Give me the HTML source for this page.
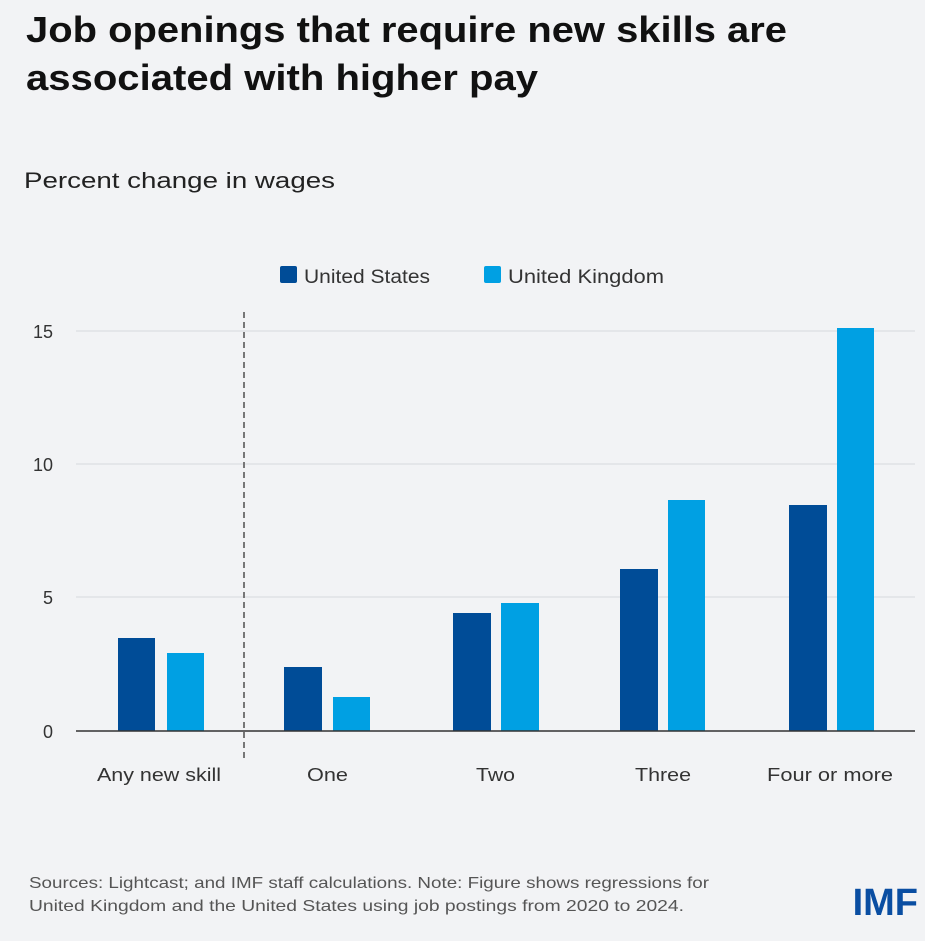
<!DOCTYPE html>
<html><head><style>
html,body{margin:0;padding:0;background:#f2f3f5;}
body{width:925px;height:936px;overflow:hidden;font-family:"Liberation Sans",sans-serif;}
</style></head><body>
<svg width="925" height="936" viewBox="0 0 925 936" xmlns="http://www.w3.org/2000/svg" font-family="Liberation Sans, sans-serif">
<rect width="925" height="936" fill="#f2f3f5"/>
<text x="26" y="42" font-size="36" font-weight="bold" fill="#111" textLength="761" lengthAdjust="spacingAndGlyphs">Job openings that require new skills are</text>
<text x="26" y="90" font-size="36" font-weight="bold" fill="#111" textLength="512" lengthAdjust="spacingAndGlyphs">associated with higher pay</text>
<text x="24" y="188" font-size="22" fill="#222" textLength="311" lengthAdjust="spacingAndGlyphs">Percent change in wages</text>
<rect x="280" y="266" width="17" height="17" rx="2" fill="#004c97"/>
<text x="304" y="283" font-size="19" fill="#333" textLength="126" lengthAdjust="spacingAndGlyphs">United States</text>
<rect x="484" y="266" width="17" height="17" rx="2" fill="#00a0e3"/>
<text x="508" y="283" font-size="19" fill="#333" textLength="156" lengthAdjust="spacingAndGlyphs">United Kingdom</text>
<g stroke="#dcdee2" stroke-width="1.2">
<line x1="76" x2="915" y1="331" y2="331"/>
<line x1="76" x2="915" y1="464" y2="464"/>
<line x1="76" x2="915" y1="597" y2="597"/>
</g>
<g font-size="18" fill="#333" text-anchor="end">
<text x="53" y="338">15</text><text x="53" y="471">10</text><text x="53" y="604">5</text><text x="53" y="738">0</text>
</g>
<g fill="#004c97">
<rect x="118" y="638" width="37" height="93"/>
<rect x="284" y="667" width="38" height="64"/>
<rect x="453" y="613" width="38" height="118"/>
<rect x="620" y="569" width="38" height="162"/>
<rect x="789" y="505" width="38" height="226"/>
</g>
<g fill="#00a0e3">
<rect x="167" y="653" width="37" height="78"/>
<rect x="333" y="697" width="37" height="34"/>
<rect x="501" y="603" width="38" height="128"/>
<rect x="668" y="500" width="37" height="231"/>
<rect x="837" y="328" width="37" height="403"/>
</g>
<line x1="76" x2="915" y1="731" y2="731" stroke="#333" stroke-width="1.5"/>
<line x1="244" x2="244" y1="312" y2="760" stroke="#777" stroke-width="2" stroke-dasharray="6,4"/>
<g font-size="18" fill="#333">
<text x="97" y="781" textLength="124" lengthAdjust="spacingAndGlyphs">Any new skill</text>
<text x="307" y="781" textLength="41" lengthAdjust="spacingAndGlyphs">One</text>
<text x="476" y="781" textLength="39" lengthAdjust="spacingAndGlyphs">Two</text>
<text x="635" y="781" textLength="56" lengthAdjust="spacingAndGlyphs">Three</text>
<text x="767" y="781" textLength="126" lengthAdjust="spacingAndGlyphs">Four or more</text>
</g>
<text x="29" y="888" font-size="16" fill="#555" textLength="680" lengthAdjust="spacingAndGlyphs">Sources: Lightcast; and IMF staff calculations. Note: Figure shows regressions for</text>
<text x="29" y="911" font-size="16" fill="#555" textLength="655" lengthAdjust="spacingAndGlyphs">United Kingdom and the United States using job postings from 2020 to 2024.</text>
<text x="918" y="915" font-size="38" font-weight="bold" fill="#0a4ea2" text-anchor="end">IMF</text>
</svg>
</body></html>
